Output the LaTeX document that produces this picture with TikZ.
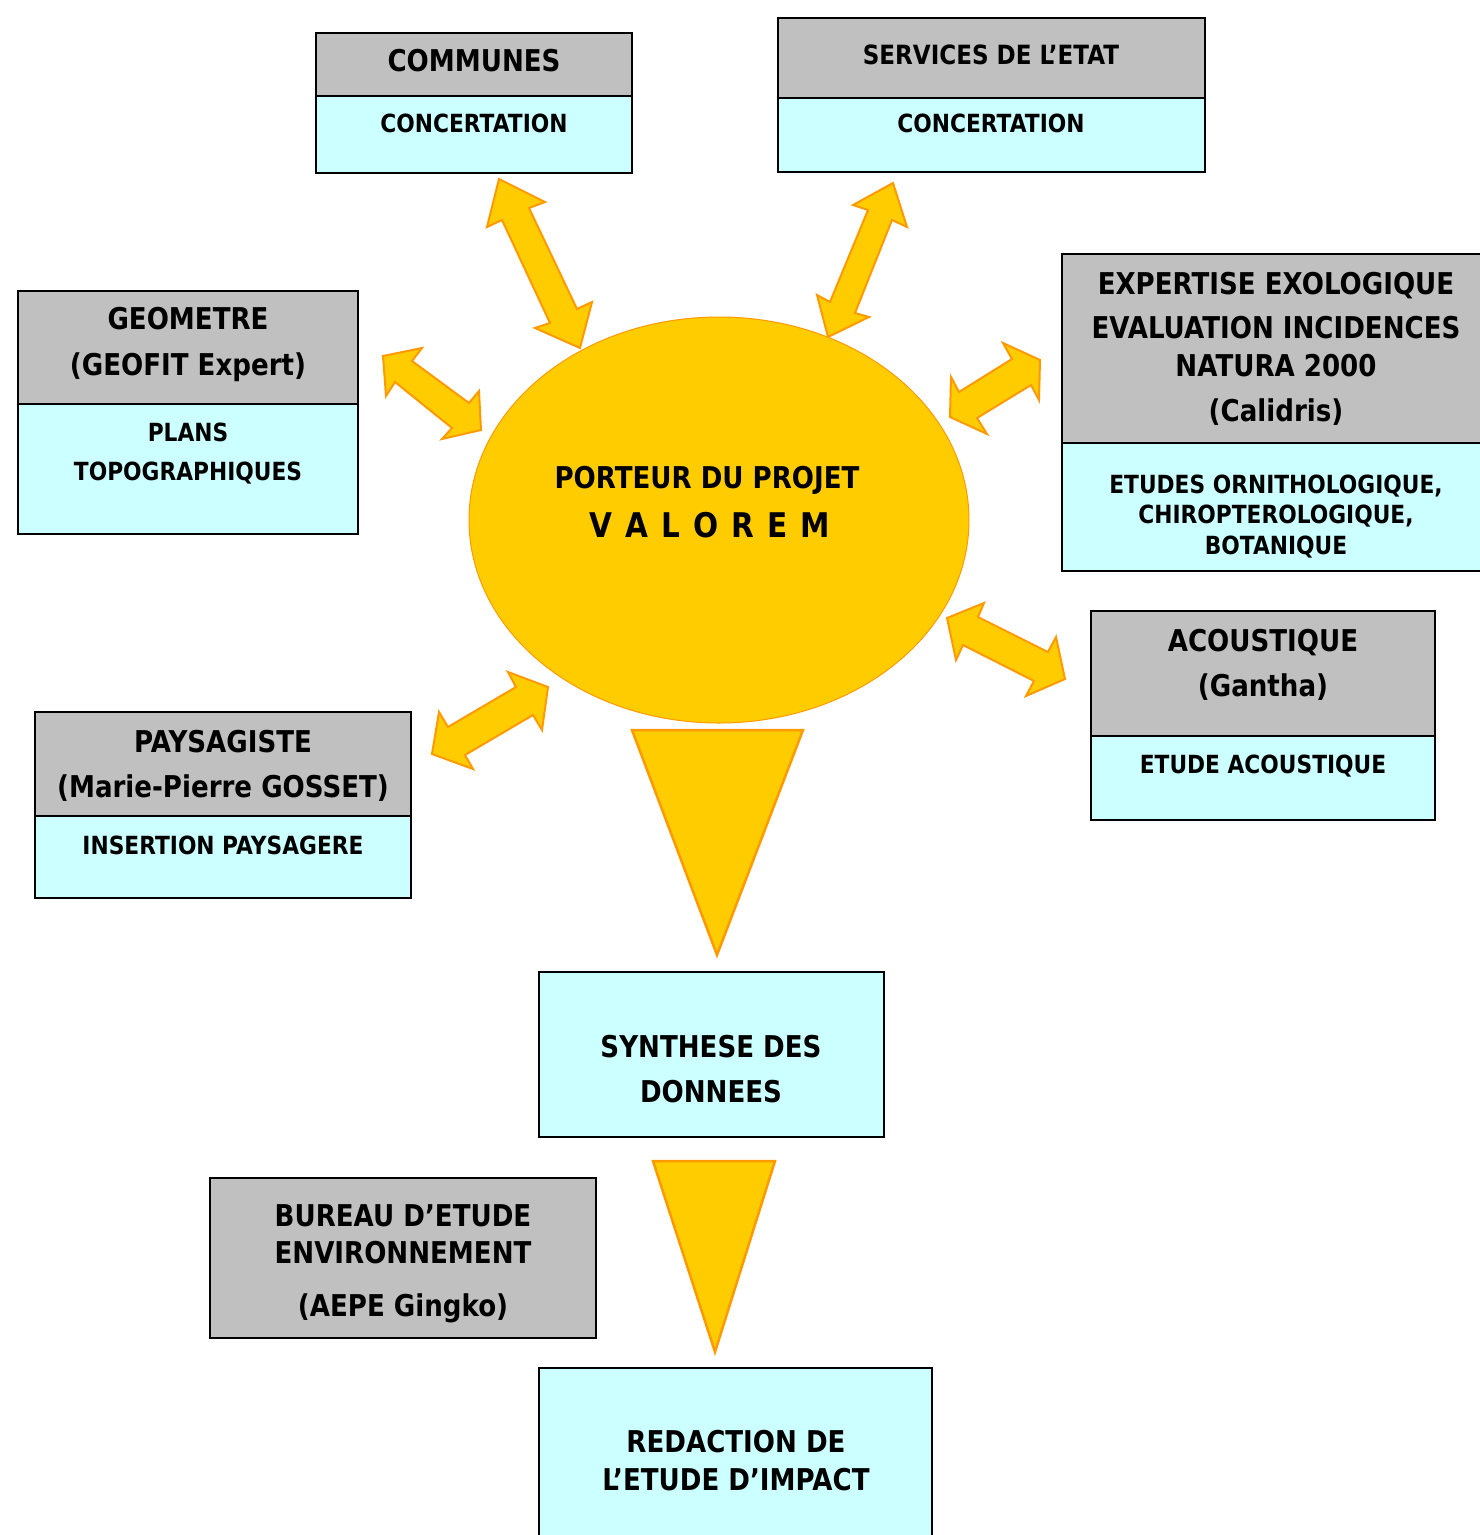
\documentclass[tikz,border=0pt]{standalone}
\usepackage{fontspec}
\setmainfont{DejaVu Sans}[FakeStretch=0.87]
\usetikzlibrary{shapes.geometric}
\definecolor{hdrgray}{HTML}{C0C0C0}
\definecolor{lightcyan}{HTML}{CCFFFF}
\definecolor{sunyellow}{HTML}{FFCC00}
\definecolor{sunorange}{HTML}{FF9900}
\begin{document}
\begin{tikzpicture}[x=1pt,y=-1pt,
  graybox/.style={rectangle,draw=black,line width=2pt,fill=hdrgray,inner sep=0pt},
  cyanbox/.style={rectangle,draw=black,line width=2pt,fill=lightcyan,inner sep=0pt},
  hdr/.style={font=\bfseries\fontsize{30}{36}\selectfont,anchor=base,inner sep=0pt},
  hdrs/.style={font=\bfseries\fontsize{26.5}{32}\selectfont,anchor=base,inner sep=0pt},
  sub/.style={font=\bfseries\fontsize{25}{30}\selectfont,anchor=base,inner sep=0pt},
  blockarrow/.style={fill=sunyellow,draw=sunorange,line width=2pt,line join=miter},
  funnel/.style={fill=sunyellow,draw=sunorange,line width=2.5pt,line join=miter}]
\useasboundingbox (0,0) rectangle (1480,1535);
\clip (0,0) rectangle (1480,1535);

% ---- block arrows ----
\draw[blockarrow] (499,179) -- (545,202) -- (529,208) -- (577,309) -- (592,302) -- (580,348)
  -- (535,328) -- (550,323) -- (502,220) -- (487,227) -- cycle;
\draw[blockarrow] (893,183) -- (907,227) -- (892,220) -- (855,313) -- (869,317) -- (828,337)
  -- (817,295) -- (830,302) -- (868,210) -- (853,205) -- cycle;
\draw[blockarrow] (383,356) -- (422,348) -- (412,361) -- (469,403) -- (479,391) -- (481,430)
  -- (442,439) -- (452,428) -- (395,382) -- (386,396) -- cycle;
\draw[blockarrow] (1040,360) -- (1039,400) -- (1031,385) -- (977,418) -- (987,434) -- (950,417)
  -- (951,377) -- (959,392) -- (1012,359) -- (1003,343) -- cycle;
\draw[blockarrow] (947,618) -- (984,603) -- (978,617) -- (1048,652) -- (1056,637) -- (1065,679)
  -- (1026,696) -- (1034,681) -- (963,645) -- (956,660) -- cycle;
\draw[blockarrow] (548,687) -- (542,730) -- (533,715) -- (465,755) -- (473,769) -- (432,754)
  -- (439,712) -- (448,727) -- (516,687) -- (508,672) -- cycle;

% ---- central ellipse ----
\node[ellipse,fill=sunyellow,draw=sunorange,line width=1pt,minimum width=500pt,minimum height=406pt,inner sep=0pt] (core) at (719,520) {};
\node[hdr] (coreA) at (707,488) {PORTEUR DU PROJET};
\node[font=\bfseries\fontsize{34}{40}\selectfont,anchor=base,inner sep=0pt] (coreB) at (710,537)
  {V\hspace{13pt}A\hspace{13pt}L\hspace{13pt}O\hspace{13pt}R\hspace{13pt}E\hspace{13pt}M};

% ---- funnels ----
\draw[funnel] (632,730) -- (803,730) -- (717,955) -- cycle;
\draw[funnel] (653,1161) -- (775,1161) -- (715,1352) -- cycle;

% ---- COMMUNES ----
\node[graybox,minimum width=316pt,minimum height=63pt] (communesH) at (474,64.5) {};
\node[cyanbox,minimum width=316pt,minimum height=77pt] (communesB) at (474,134.5) {};
\node[hdr] (communesT) at (474,71) {COMMUNES};
\node[sub] (communesS) at (474,132) {CONCERTATION};

% ---- SERVICES DE L'ETAT ----
\node[graybox,minimum width=427pt,minimum height=80pt] (servicesH) at (991.5,58) {};
\node[cyanbox,minimum width=427pt,minimum height=74pt] (servicesB) at (991.5,135) {};
\node[hdrs] (servicesT) at (991,64.5) {SERVICES DE L’ETAT};
\node[sub] (servicesS) at (991,132) {CONCERTATION};

% ---- GEOMETRE ----
\node[graybox,minimum width=340pt,minimum height=113pt] (geoH) at (188,347.5) {};
\node[cyanbox,minimum width=340pt,minimum height=130pt] (geoB) at (188,469) {};
\node[hdr] (geoT1) at (188,329) {GEOMETRE};
\node[hdr] (geoT2) at (188,375) {(GEOFIT Expert)};
\node[sub] (geoS1) at (188,441) {PLANS};
\node[sub] (geoS2) at (188,480) {TOPOGRAPHIQUES};

% ---- EXPERTISE ----
\node[graybox,minimum width=428pt,minimum height=189pt] (expH) at (1276,348.5) {};
\node[cyanbox,minimum width=428pt,minimum height=128pt] (expB) at (1276,507) {};
\node[hdr] (expT1) at (1276,294) {EXPERTISE EXOLOGIQUE};
\node[hdr] (expT2) at (1276,338) {EVALUATION INCIDENCES};
\node[hdr] (expT3) at (1276,376) {NATURA 2000};
\node[hdr] (expT4) at (1276,421) {(Calidris)};
\node[sub] (expS1) at (1276,493) {ETUDES ORNITHOLOGIQUE,};
\node[sub] (expS2) at (1276,523) {CHIROPTEROLOGIQUE,};
\node[sub] (expS3) at (1276,554) {BOTANIQUE};

% ---- ACOUSTIQUE ----
\node[graybox,minimum width=344pt,minimum height=125pt] (acoH) at (1263,673.5) {};
\node[cyanbox,minimum width=344pt,minimum height=84pt] (acoB) at (1263,778) {};
\node[hdr] (acoT1) at (1263,651) {ACOUSTIQUE};
\node[hdr] (acoT2) at (1263,696) {(Gantha)};
\node[sub] (acoS) at (1263,773) {ETUDE ACOUSTIQUE};

% ---- PAYSAGISTE ----
\node[graybox,minimum width=376pt,minimum height=104pt] (paysH) at (223,764) {};
\node[cyanbox,minimum width=376pt,minimum height=82pt] (paysB) at (223,857) {};
\node[hdr] (paysT1) at (223,752) {PAYSAGISTE};
\node[hdr] (paysT2) at (223,797) {(Marie-Pierre GOSSET)};
\node[sub] (paysS) at (223,854) {INSERTION PAYSAGERE};

% ---- SYNTHESE ----
\node[cyanbox,minimum width=345pt,minimum height=165pt] (synth) at (711.5,1054.5) {};
\node[hdr] (synthT1) at (711,1057) {SYNTHESE DES};
\node[hdr] (synthT2) at (711,1102) {DONNEES};

% ---- BUREAU D'ETUDE ----
\node[graybox,minimum width=386pt,minimum height=160pt] (bureau) at (403,1258) {};
\node[hdr] (bureauT1) at (403,1226) {BUREAU D’ETUDE};
\node[hdr] (bureauT2) at (403,1263) {ENVIRONNEMENT};
\node[hdr] (bureauT3) at (403,1316) {(AEPE Gingko)};

% ---- REDACTION ----
\node[cyanbox,minimum width=393pt,minimum height=177pt] (redac) at (735.5,1456.5) {};
\node[hdr] (redacT1) at (736,1452) {REDACTION DE};
\node[hdr] (redacT2) at (736,1490) {L’ETUDE D’IMPACT};
\end{tikzpicture}
\end{document}
